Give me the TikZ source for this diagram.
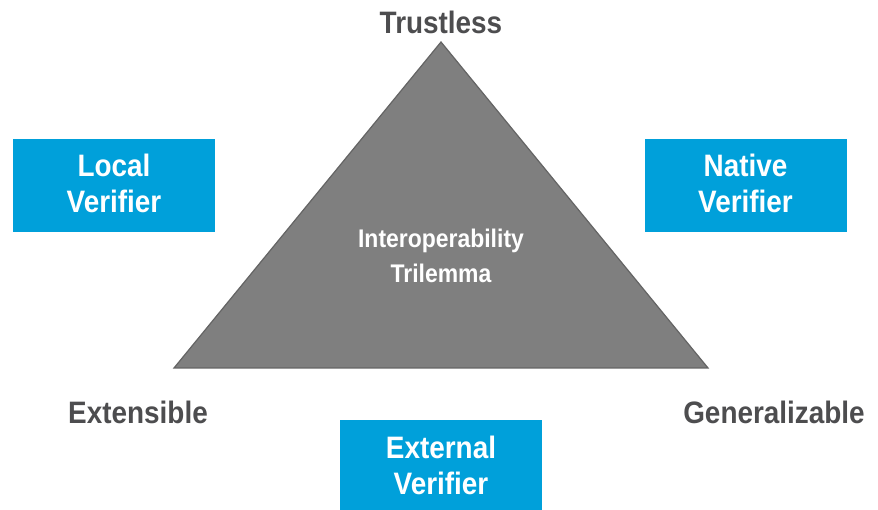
\documentclass[tikz,border=0pt]{standalone}
\usepackage{fontspec}
\newfontfamily\lblfont{Liberation Sans}[FakeStretch=0.9]
\definecolor{boxblue}{RGB}{0,160,218}
\definecolor{lblgray}{RGB}{77,77,79}
\definecolor{trifill}{RGB}{127,127,127}
\definecolor{triedge}{RGB}{100,100,100}
\tikzset{
  vbox/.style={fill=boxblue, draw=none, minimum width=202pt, inner sep=0pt,
    text=white, align=center, font=\lblfont\bfseries\fontsize{31}{36}\selectfont},
  cornerlbl/.style={anchor=base, text=lblgray, inner sep=0pt,
    font=\lblfont\bfseries\fontsize{31}{36}\selectfont},
  trilbl/.style={text=white, align=center, inner sep=0pt,
    font=\lblfont\bfseries\fontsize{25.5}{35}\selectfont}
}
\begin{document}
\begin{tikzpicture}[x=1pt,y=-1pt]
\useasboundingbox (0,0) rectangle (878,510);
\clip (0,0) rectangle (878,510);
\coordinate (apex) at (441,42);
\coordinate (bl) at (174,368);
\coordinate (br) at (708,368);
\draw[fill=trifill, draw=triedge, line width=1.2pt, line join=miter] (apex) -- (bl) -- (br) -- cycle;
\node[trilbl] (tri) at (441,256) {Interoperability\\Trilemma};
\node[cornerlbl] (trust) at (441,34) {Trustless};
\node[cornerlbl] (ext) at (138,423) {Extensible};
\node[cornerlbl] (gen) at (774,423) {Generalizable};
\node[vbox, minimum height=93pt, text depth=5pt] (local) at (114,185.5) {Local\\Verifier};
\node[vbox, minimum height=93pt, text depth=5pt] (native) at (745.5,185.5) {Native\\Verifier};
\node[vbox, minimum height=100pt, text depth=9pt] (external) at (441,470) {External\\Verifier};
\end{tikzpicture}
\end{document}
